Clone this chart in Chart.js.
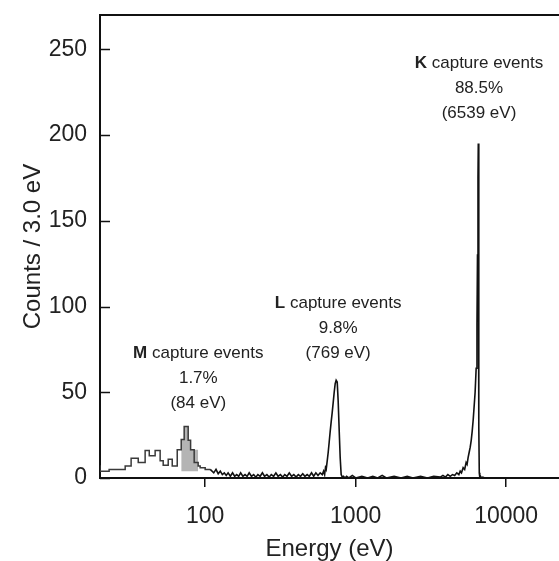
<!DOCTYPE html>
<html>
<head>
<meta charset="utf-8">
<title>Capture spectrum</title>
<script src="https://cdn.jsdelivr.net/npm/chart.js@4.4.1/dist/chart.umd.min.js"></script>
<style>
  html, body { margin: 0; padding: 0; background: #fff; overflow: hidden; }
  #wrap { width: 559px; height: 561px; position: relative; }
</style>
</head>
<body>
<div id="wrap"><canvas id="spectrum"></canvas></div>
<script>
// low energy part, 3.0 eV bins drawn as steps (left bin edges, eV)
var lowEdges = [20, 23, 29.4, 32.2, 35.9, 39.9, 42.5, 46.5, 50.2, 52.6, 56.8, 60.4, 65.2, 69.3, 72.5, 77.1, 80, 84.5, 89.8, 92.6, 100, 108];
var lowCounts = [7.5, 4, 5, 7, 11.5, 9, 16, 13, 16, 10, 7.5, 11, 7, 16.5, 22.5, 30, 22, 16.5, 9, 7, 6, 5];

// shaded M peak (same bins, above a background of 4 counts)
var mEdges = [69.3, 72.5, 77.1, 80, 84.5, 89.8];
var mCounts = [16.5, 22.5, 30, 22, 16.5, 16.5];
var mBackground = 4;

// rest of the spectrum (eV / counts)
var energies = [
  108, 114, 118, 122, 126, 130, 134, 138, 142, 147, 152, 157, 162, 167, 172, 178, 184, 190, 196, 203,
  210, 217, 224, 232, 240, 248, 257, 266, 275, 285, 295, 305, 316, 327, 338, 350, 362, 375, 388, 402,
  416, 430, 445, 460, 476, 492, 509, 526, 544, 562, 581, 600, 612, 622, 630, 637,
  647, 657, 667, 677, 688, 698, 709, 720, 731, 742, 754, 765, 777, 789, 801,
  815, 830, 850, 870, 900, 950, 1000, 1100, 1200, 1300, 1400, 1500, 1600, 1800, 2000, 2200, 2400, 2700, 3000, 3300,
  3650, 3800, 3950, 4100, 4250, 4400, 4550, 4700, 4850, 4950, 5050, 5180, 5300, 5420, 5500, 5590, 5680, 5770, 5860, 5944,
  6040, 6130, 6220, 6320, 6400, 6450, 6500, 6530, 6560, 6600, 6630, 6680, 6750, 6850, 7000, 7200, 8000, 22450
];
var counts = [
  5, 3, 5, 2.5, 4, 2, 3, 1.5, 3, 1, 3, 1, 2, 1, 3, 1, 2, 1, 3, 1,
  2, 0.5, 2, 1, 3, 1, 2, 0.5, 2, 1, 3, 1, 2, 0.5, 2, 1, 3, 1, 2, 0.5,
  2, 1, 2.5, 1, 2, 1, 3, 1, 3, 1.5, 3, 2, 4, 2, 6, 5,
  10, 15, 21, 27, 33, 38, 44, 50, 55, 57, 56, 45, 28, 12, 2,
  0.5, 1, 0, 1, 0, 1.5, 0, 1, 0, 1, 0, 1.5, 0, 1, 0, 1, 0, 1, 0, 1,
  0.5, 1.5, 0.5, 2, 1, 2, 1.5, 3, 2, 4, 3, 6, 5, 9, 8, 12, 15, 18, 22, 27,
  34, 42, 50, 64, 90, 130, 175, 195, 120, 30, 3, 0.5, 1, 0, 0.5, 0, 0, 0
];

var yTicks = [0, 50, 100, 150, 200, 250];
var xTicks = [100, 1000, 10000];

// peak labels: bold letter, rest of first line, share, position
var peakLetters = ['M', 'L', 'K'];
var peakShares = ['1.7%', '9.8%', '88.5%'];
var peakEnergies = ['(84 eV)', '(769 eV)', '(6539 eV)'];
var labelAtX = [90, 765, 6600];
var labelAtY = [73, 102, 242];

var FONT = '"Liberation Sans", Arial, Helvetica, sans-serif';
var INK = '#222';

function toPoints(xs, ys) {
  return xs.map(function (x, i) { return { x: x, y: ys[i] }; });
}

// frame top line + inner y tick marks
var framePlugin = {
  id: 'frame',
  afterDraw: function (chart) {
    var ctx = chart.ctx, area = chart.chartArea, y = chart.scales.y;
    ctx.save();
    ctx.strokeStyle = '#111';
    ctx.lineWidth = 2;
    ctx.beginPath();
    ctx.moveTo(area.left, area.top);
    ctx.lineTo(area.right, area.top);
    ctx.stroke();
    ctx.lineWidth = 1.5;
    yTicks.forEach(function (v) {
      var py = Math.round(y.getPixelForValue(v)) + 0.5;
      ctx.beginPath();
      ctx.moveTo(area.left, py);
      ctx.lineTo(area.left + 10, py);
      ctx.stroke();
    });
    ctx.restore();
  }
};

var labelPlugin = {
  id: 'peakLabels',
  afterDraw: function (chart) {
    var ctx = chart.ctx, xs = chart.scales.x, ys = chart.scales.y;
    var bold = 'bold 17px ' + FONT, norm = '17px ' + FONT;
    ctx.save();
    ctx.fillStyle = INK;
    ctx.textBaseline = 'middle';
    peakLetters.forEach(function (letter, i) {
      var cx = xs.getPixelForValue(labelAtX[i]);
      var cy = ys.getPixelForValue(labelAtY[i]);
      var rest = ' capture events';
      ctx.font = bold;
      var w1 = ctx.measureText(letter).width;
      ctx.font = norm;
      var w2 = ctx.measureText(rest).width;
      var x0 = cx - (w1 + w2) / 2;
      ctx.textAlign = 'left';
      ctx.font = bold;
      ctx.fillText(letter, x0, cy);
      ctx.font = norm;
      ctx.fillText(rest, x0 + w1, cy);
      ctx.textAlign = 'center';
      ctx.fillText(peakShares[i], cx, cy + 25);
      ctx.fillText(peakEnergies[i], cx, cy + 50);
    });
    ctx.restore();
  }
};

var chart = new Chart(document.getElementById('spectrum'), {
  type: 'line',
  data: {
    datasets: [
      {
        // shaded part goes under the outlines
        order: 10,
        data: toPoints(mEdges, mCounts),
        stepped: 'after',
        borderWidth: 0,
        borderColor: 'rgba(0,0,0,0)',
        backgroundColor: '#b4b4b4',
        fill: { value: mBackground },
        pointRadius: 0
      },
      {
        order: 2,
        data: toPoints(lowEdges, lowCounts),
        stepped: 'after',
        borderColor: '#3a3a3a',
        borderWidth: 1.5,
        fill: false,
        pointRadius: 0
      },
      {
        order: 1,
        data: toPoints(energies, counts),
        borderColor: '#111',
        borderWidth: 1.6,
        tension: 0,
        fill: false,
        pointRadius: 0
      }
    ]
  },
  options: {
    responsive: true,
    maintainAspectRatio: false,
    animation: false,
    layout: { padding: { top: 15, right: 0, left: 0, bottom: 0 } },
    plugins: { legend: { display: false }, tooltip: { enabled: false } },
    scales: {
      x: {
        type: 'logarithmic',
        min: 20,
        max: 22450,
        afterBuildTicks: function (scale) {
          scale.ticks = xTicks.map(function (v) { return { value: v, major: true }; });
        },
        afterFit: function (scale) {
          scale.height = 83;
          scale.paddingLeft = 0;
          scale.paddingRight = 0;
        },
        ticks: {
          autoSkip: false,
          maxRotation: 0,
          padding: 16,
          color: INK,
          font: { size: 23, family: FONT },
          callback: function (v) { return String(v); }
        },
        grid: { drawOnChartArea: false, drawTicks: true, tickLength: 9, color: '#111', lineWidth: 1.5 },
        border: { display: true, color: '#111', width: 2 },
        title: {
          display: true,
          text: 'Energy (eV)',
          color: INK,
          font: { size: 24, family: FONT, lineHeight: 1.1 },
          padding: { top: 0, bottom: -2 }
        }
      },
      y: {
        min: 0,
        max: 270,
        afterBuildTicks: function (scale) {
          scale.ticks = yTicks.map(function (v) { return { value: v }; });
        },
        afterFit: function (scale) {
          scale.width = 100;
          scale.paddingTop = 0;
          scale.paddingBottom = 0;
        },
        ticks: {
          padding: 13,
          color: INK,
          font: { size: 23, family: FONT }
        },
        grid: { drawOnChartArea: false, drawTicks: false },
        border: { display: true, color: '#111', width: 2 },
        title: {
          display: true,
          text: 'Counts / 3.0 eV',
          color: INK,
          font: { size: 24, family: FONT, lineHeight: 1.1 },
          padding: { top: 20, bottom: 0 }
        }
      }
    }
  },
  plugins: [framePlugin, labelPlugin]
});
</script>
</body>
</html>
